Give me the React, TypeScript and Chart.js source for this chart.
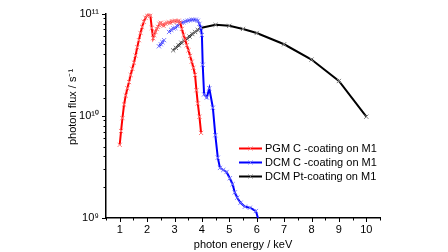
import React, { useEffect, useRef } from "react";
import { Chart, registerables } from "chart.js";

Chart.register(...registerables);

// PGM C-coating on M1
const pgmEnergy = [1.0, 1.05, 1.1, 1.16, 1.22, 1.28, 1.34, 1.4, 1.46, 1.52, 1.58, 1.64, 1.7, 1.76, 1.82, 1.88, 1.94, 2.0, 2.06, 2.12, 2.17, 2.22, 2.26, 2.3, 2.35, 2.4, 2.45, 2.5, 2.55, 2.6, 2.67, 2.73, 2.79, 2.85, 2.91, 2.97, 3.03, 3.09, 3.15, 3.21, 3.27, 3.33, 3.39, 3.45, 3.51, 3.57, 3.63, 3.69, 3.75, 3.8, 3.85, 3.91, 3.97];
const pgmFlux = [5.2e9, 7.1e9, 9.5e9, 1.29e10, 1.58e10, 1.86e10, 2.14e10, 2.51e10, 2.88e10, 3.31e10, 3.89e10, 4.68e10, 5.5e10, 6.46e10, 7.41e10, 8.32e10, 9.12e10, 9.55e10, 9.77e10, 9.55e10, 7.24e10, 5.75e10, 6.17e10, 6.61e10, 7.08e10, 7.41e10, 7.94e10, 8.13e10, 7.76e10, 7.59e10, 7.94e10, 8.13e10, 8.22e10, 8.13e10, 8.41e10, 8.41e10, 8.51e10, 8.32e10, 8.51e10, 8.13e10, 7.08e10, 6.17e10, 5.56e10, 4.9e10, 4.37e10, 3.85e10, 3.39e10, 2.95e10, 2.51e10, 1.78e10, 1.32e10, 9.8e9, 6.8e9];

// DCM C-coating on M1 (null = gap)
const dcmCEnergy = [2.43, 2.5, 2.56, 2.62, 2.7, 2.8, 2.88, 2.96, 3.03, 3.1, 3.18, 3.26, 3.33, 3.4, 3.48, 3.55, 3.63, 3.7, 3.78, 3.85, 3.91, 3.96, 4.0, 4.03, 4.08, 4.18, 4.27, 4.4, 4.49, 4.58, 4.66, 4.78, 4.9, 5.02, 5.12, 5.2, 5.29, 5.41, 5.57, 5.75, 5.97, 6.08];
const dcmCFlux = [4.79e10, 5.01e10, 5.25e10, 5.5e10, null, 6.61e10, 6.92e10, 7.16e10, 7.24e10, 7.59e10, 7.94e10, 8.13e10, 8.22e10, 8.41e10, 8.51e10, 8.61e10, 8.71e10, 8.71e10, 8.71e10, 8.51e10, 7.94e10, 7.24e10, 6.17e10, 3.16e10, 1.62e10, 1.51e10, 1.86e10, 1.2e10, 6.46e9, 3.89e9, 3.09e9, 2.95e9, 2.82e9, 2.45e9, 2.14e9, 1.78e9, 1.58e9, 1.41e9, 1.29e9, 1.26e9, 1.17e9, 9.3e8];

// DCM Pt-coating on M1
const dcmPtEnergy = [2.95, 3.05, 3.15, 3.25, 3.35, 3.45, 3.55, 3.65, 3.75, 3.85, 3.95, 4.5, 5.0, 5.5, 6.0, 7.0, 8.0, 9.0, 10.0];
const dcmPtFlux = [4.37e10, 4.62e10, 4.9e10, 5.19e10, 5.43e10, 5.69e10, 5.96e10, 6.31e10, 6.61e10, 6.92e10, 7.24e10, 7.76e10, 7.59e10, 7.08e10, 6.46e10, 5.01e10, 3.55e10, 2.19e10, 9.8e9];

const seriesLabels = ["PGM C -coating on M1", "DCM C -coating on M1", "DCM Pt-coating on M1"];
const lineColors = ["#ff0000", "#0000ff", "#000000"];
const markerColors = ["#ff7a7a", "#7a7aff", "#7a7a7a"];

const xTickValues = [1, 2, 3, 4, 5, 6, 7, 8, 9, 10];
const xTickLabels = ["1", "2", "3", "4", "5", "6", "7", "8", "9", "10"];
const yTickLabels: Record<number, string> = { 9: "10⁹", 10: "10¹⁰", 11: "10¹¹" };

const FONT = "'Liberation Sans', Arial, sans-serif";

function toPoints(xs: number[], ys: (number | null)[]) {
  return xs.map((x, i) => ({ x, y: ys[i] }));
}

const tickPlugin = {
  id: "customTicks",
  afterDraw(chart: any) {
    const { ctx, chartArea, scales } = chart;
    const xs = scales.x;
    const ys = scales.y;
    ctx.save();
    ctx.strokeStyle = "#000";
    ctx.lineWidth = 1;
    // x ticks (major at integers, minor at halves), outward
    for (let v = 0.5; v <= 10.5001; v += 0.5) {
      const px = Math.round(xs.getPixelForValue(v)) + 0.5;
      const major = Math.abs(v - Math.round(v)) < 1e-6;
      ctx.beginPath();
      ctx.moveTo(px, chartArea.bottom);
      ctx.lineTo(px, chartArea.bottom + (major ? 4 : 2.5));
      ctx.stroke();
    }
    // y ticks from the log scale
    ys.ticks.forEach((t: any) => {
      const py = Math.round(ys.getPixelForValue(t.value)) + 0.5;
      const lg = Math.log10(t.value);
      const major = Math.abs(lg - Math.round(lg)) < 1e-6;
      ctx.beginPath();
      ctx.moveTo(chartArea.left, py);
      ctx.lineTo(chartArea.left - (major ? 4 : 2.5), py);
      ctx.stroke();
    });

    // y axis title
    ctx.fillStyle = "#000";
    ctx.font = `11px ${FONT}`;
    ctx.translate(73, 107);
    ctx.rotate(-Math.PI / 2);
    ctx.textAlign = "center";
    ctx.textBaseline = "middle";
    ctx.fillText("photon flux / s⁻¹", 0, 0);
    ctx.restore();

    // legend
    ctx.save();
    const rows = [148.5, 162.5, 176.5];
    chart.data.datasets.forEach((ds: any, i: number) => {
      const y = rows[i];
      ctx.strokeStyle = ds.borderColor;
      ctx.lineWidth = 2;
      ctx.beginPath();
      ctx.moveTo(239, y);
      ctx.lineTo(262, y);
      ctx.stroke();
      ctx.strokeStyle = ds.pointBorderColor;
      ctx.lineWidth = 1;
      const cx = 250.5, r = 2;
      ctx.beginPath();
      ctx.moveTo(cx - r, y - r);
      ctx.lineTo(cx + r, y + r);
      ctx.moveTo(cx + r, y - r);
      ctx.lineTo(cx - r, y + r);
      ctx.stroke();
      ctx.fillStyle = "#000";
      ctx.font = `11px ${FONT}`;
      ctx.textAlign = "left";
      ctx.textBaseline = "middle";
      ctx.fillText(ds.label, 265, y + 0.5);
    });
    ctx.restore();
  },
};

export default function App() {
  const ref = useRef<HTMLCanvasElement>(null);
  useEffect(() => {
    if (!ref.current) return;
    Chart.defaults.font.family = FONT;
    Chart.defaults.font.size = 11;
    Chart.defaults.color = "#000";
    const mk = (i: number, data: any[]) => ({
      label: seriesLabels[i],
      data,
      borderColor: lineColors[i],
      backgroundColor: lineColors[i],
      borderWidth: 2,
      pointStyle: "crossRot",
      pointRadius: 3,
      pointBorderWidth: 1,
      pointBorderColor: markerColors[i],
      pointBackgroundColor: markerColors[i],
      spanGaps: false,
      tension: 0,
    });
    const chart = new Chart(ref.current, {
      type: "line",
      data: {
        datasets: [
          mk(0, toPoints(pgmEnergy, pgmFlux)),
          mk(1, toPoints(dcmCEnergy, dcmCFlux)),
          mk(2, toPoints(dcmPtEnergy, dcmPtFlux)),
        ],
      },
      options: {
        animation: false,
        responsive: false,
        layout: { padding: { left: 0, right: 68, top: 6, bottom: 0 } },
        plugins: { legend: { display: false }, tooltip: { enabled: false } },
        scales: {
          x: {
            type: "linear",
            min: 0.5,
            max: 10.5,
            afterFit: (s: any) => { s.height = 34; },
            afterBuildTicks: (s: any) => { s.ticks = xTickValues.map((v) => ({ value: v })); },
            ticks: {
              autoSkip: false,
              maxRotation: 0,
              padding: 5,
              callback: (v: any) => {
                const idx = xTickValues.indexOf(Number(v));
                return idx >= 0 ? xTickLabels[idx] : "";
              },
            },
            grid: { display: true, drawOnChartArea: false, drawTicks: false },
            border: { display: true, color: "#000", width: 1.5 },
            title: { display: true, text: "photon energy / keV", padding: { top: 0, bottom: 0 }, font: { size: 11 } },
          },
          y: {
            type: "logarithmic",
            min: 1e9,
            max: 1e11,
            afterFit: (s: any) => { s.width = 106; },
            ticks: {
              autoSkip: false,
              padding: 7,
              callback: (v: any) => {
                const lg = Math.log10(Number(v));
                const r = Math.round(lg);
                return Math.abs(lg - r) < 1e-6 && yTickLabels[r] ? yTickLabels[r] : "";
              },
            },
            grid: { display: true, drawOnChartArea: false, drawTicks: false },
            border: { display: true, color: "#000", width: 1.5 },
          },
        },
      },
      plugins: [tickPlugin],
    } as any);
    return () => chart.destroy();
  }, []);
  return (
    <div style={{ position: "fixed", left: 0, top: 0, width: 448, height: 252, background: "#fff" }}>
      <canvas ref={ref} width={448} height={252} />
    </div>
  );
}
